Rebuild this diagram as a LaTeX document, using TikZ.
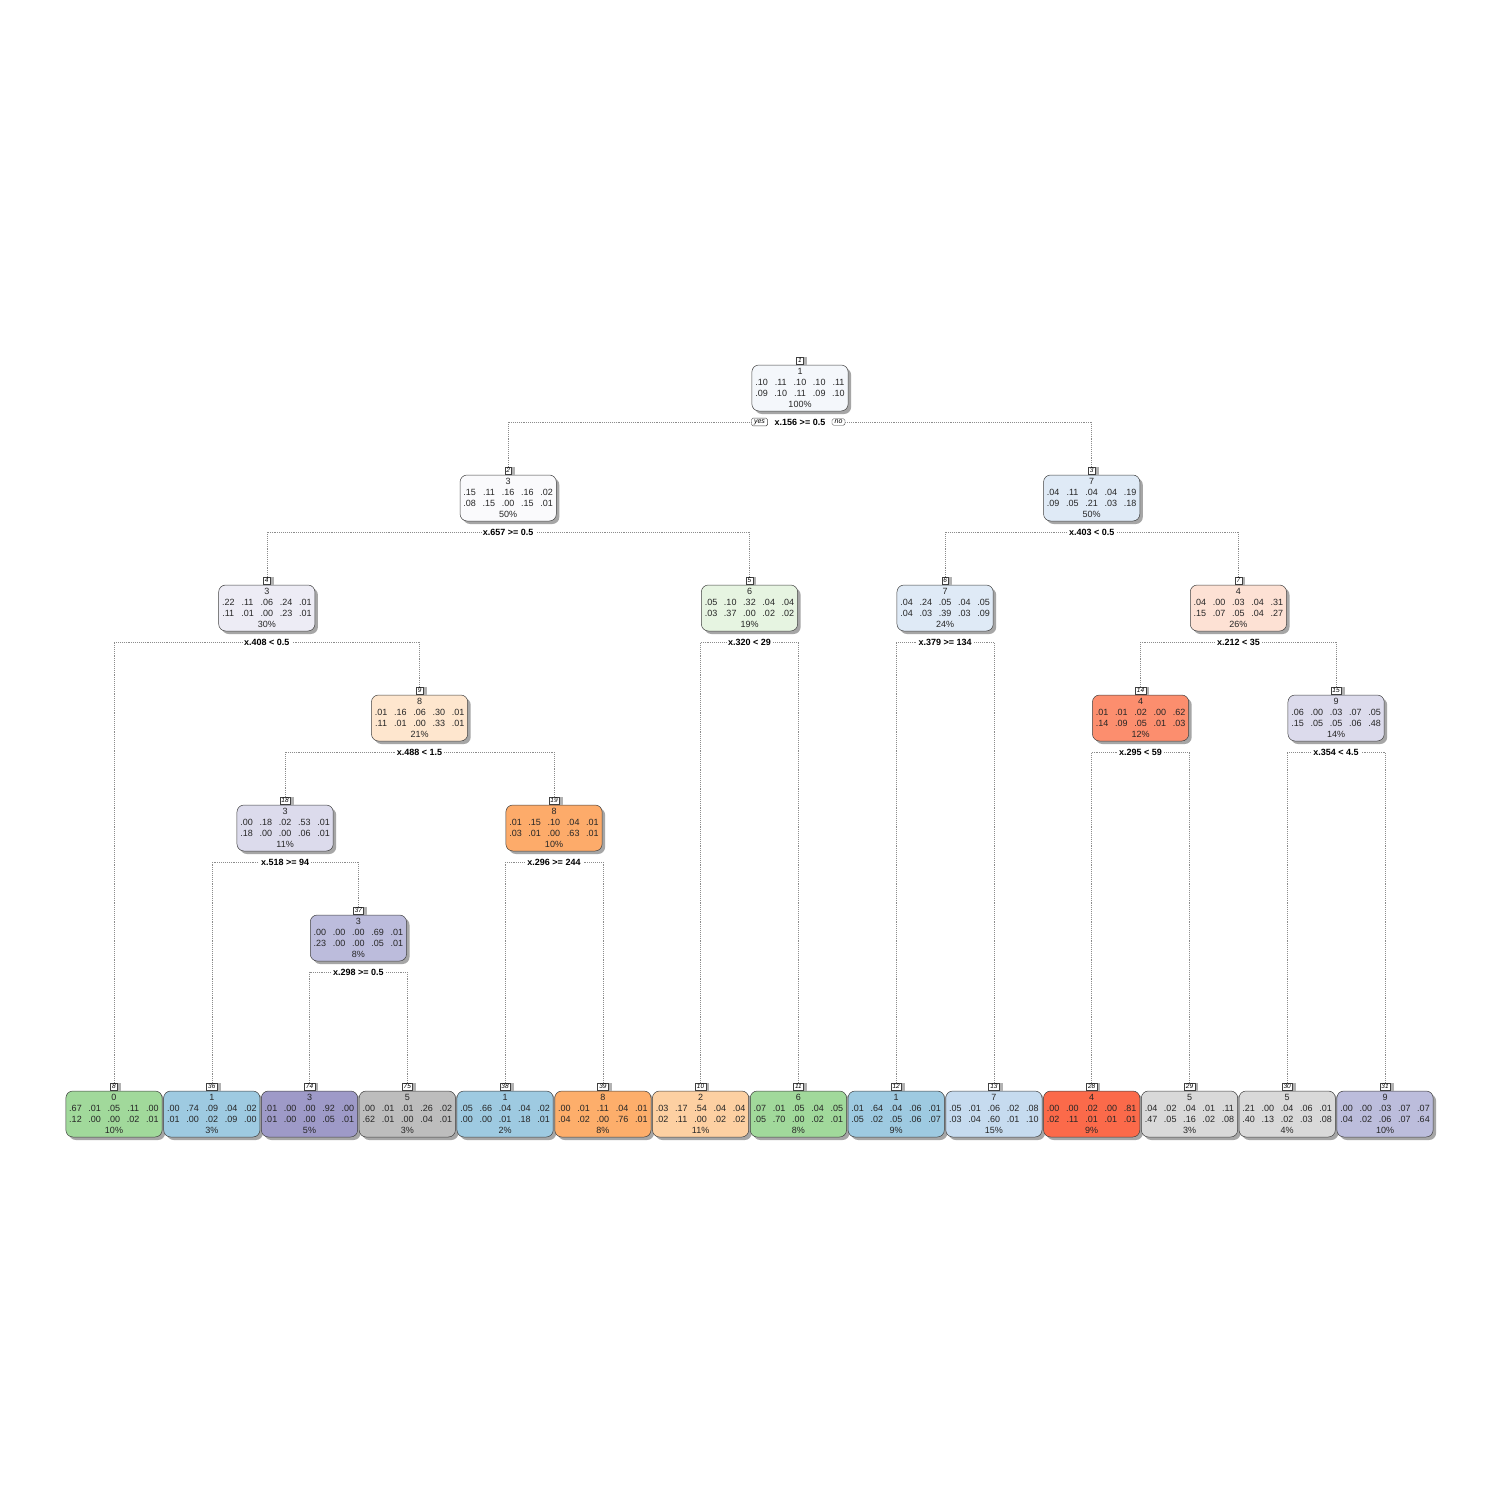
\documentclass[tikz,border=0pt]{standalone}
\usepackage{fontspec}
\setmainfont{Liberation Sans}
\usetikzlibrary{shadows}
\definecolor{cA}{HTML}{F4F7FB}
\definecolor{cB}{HTML}{FAFAFC}
\definecolor{cC}{HTML}{DFEAF6}
\definecolor{cD}{HTML}{EDECF5}
\definecolor{cE}{HTML}{E6F4E1}
\definecolor{cF}{HTML}{FDE1D4}
\definecolor{cG}{HTML}{FEE6CE}
\definecolor{cH}{HTML}{FC8E6E}
\definecolor{cI}{HTML}{DCDBEC}
\definecolor{cJ}{HTML}{FDAB6A}
\definecolor{cK}{HTML}{BCBCDC}
\definecolor{lgreen}{HTML}{A1D99B}
\definecolor{lblue}{HTML}{9ECAE1}
\definecolor{lpurple}{HTML}{9E9AC8}
\definecolor{lgray}{HTML}{BDBDBD}
\definecolor{lorange}{HTML}{FDAE6B}
\definecolor{lpeach}{HTML}{FDD0A2}
\definecolor{llblue}{HTML}{C6DBEF}
\definecolor{lred}{HTML}{FB6A4A}
\definecolor{llgray}{HTML}{D9D9D9}
\definecolor{llav}{HTML}{BCBDDC}
\newcommand\pr[5]{\makebox[19.25pt]{#1}\makebox[19.25pt]{#2}\makebox[19.25pt]{#3}\makebox[19.25pt]{#4}\makebox[19.25pt]{#5}}
\newcommand\tnode[8]{%
  \node[tbox, fill=#4] (n#1) at (#2,#3) {#5\\#6\\#7\\#8};
  \node[numlab] (l#1) at (#2,#3-27.5) {#1};
}
\tikzset{
  tbox/.style={draw=black!75, line width=0.5pt, rounded corners=7pt,
    minimum width=96pt, minimum height=46pt, inner sep=0pt, align=center,
    text=black!85, font=\fontsize{9}{11}\selectfont,
    drop shadow={shadow xshift=3pt, shadow yshift=-3pt, fill=black!35, opacity=1}},
  numlab/.style={draw=black!75, fill=white, line width=0.4pt, inner xsep=1.6pt,
    inner ysep=0.5pt, minimum height=7.5pt, font=\fontsize{6.5}{6.5}\selectfont\itshape,
    drop shadow={shadow xshift=3.5pt, shadow yshift=-0.5pt, fill=black!30, opacity=1}},
  splitlab/.style={font=\fontsize{9}{9}\selectfont\bfseries, inner xsep=2pt, inner ysep=1pt},
  yn/.style={draw=black!75, fill=white, line width=0.4pt, rounded corners=1.5pt,
    inner xsep=2.6pt, inner ysep=1.3pt, font=\fontsize{7}{7}\selectfont\itshape},
  edge/.style={draw=black!45, line width=0.5pt, dash pattern=on 0.5pt off 1.4pt},
}
\begin{document}
\begin{tikzpicture}[x=1pt,y=-1pt]
\fill[white] (0,0) rectangle (1500,1500);
\useasboundingbox (0,0) rectangle (1500,1500);
% internal nodes
\tnode{1}{800}{388}{cA}{1}{\pr{.10}{.11}{.10}{.10}{.11}}{\pr{.09}{.10}{.11}{.09}{.10}}{100\%}
\tnode{2}{508.2}{498}{cB}{3}{\pr{.15}{.11}{.16}{.16}{.02}}{\pr{.08}{.15}{.00}{.15}{.01}}{50\%}
\tnode{3}{1091.7}{498}{cC}{7}{\pr{.04}{.11}{.04}{.04}{.19}}{\pr{.09}{.05}{.21}{.03}{.18}}{50\%}
\tnode{4}{266.8}{608}{cD}{3}{\pr{.22}{.11}{.06}{.24}{.01}}{\pr{.11}{.01}{.00}{.23}{.01}}{30\%}
\tnode{5}{749.5}{608}{cE}{6}{\pr{.05}{.10}{.32}{.04}{.04}}{\pr{.03}{.37}{.00}{.02}{.02}}{19\%}
\tnode{6}{945.1}{608}{cC}{7}{\pr{.04}{.24}{.05}{.04}{.05}}{\pr{.04}{.03}{.39}{.03}{.09}}{24\%}
\tnode{7}{1238.4}{608}{cF}{4}{\pr{.04}{.00}{.03}{.04}{.31}}{\pr{.15}{.07}{.05}{.04}{.27}}{26\%}
\tnode{9}{419.6}{718}{cG}{8}{\pr{.01}{.16}{.06}{.30}{.01}}{\pr{.11}{.01}{.00}{.33}{.01}}{21\%}
\tnode{14}{1140.6}{718}{cH}{4}{\pr{.01}{.01}{.02}{.00}{.62}}{\pr{.14}{.09}{.05}{.01}{.03}}{12\%}
\tnode{15}{1336.1}{718}{cI}{9}{\pr{.06}{.00}{.03}{.07}{.05}}{\pr{.15}{.05}{.05}{.06}{.48}}{14\%}
\tnode{18}{285.1}{828}{cI}{3}{\pr{.00}{.18}{.02}{.53}{.01}}{\pr{.18}{.00}{.00}{.06}{.01}}{11\%}
\tnode{19}{554.0}{828}{cJ}{8}{\pr{.01}{.15}{.10}{.04}{.01}}{\pr{.03}{.01}{.00}{.63}{.01}}{10\%}
\tnode{37}{358.4}{938}{cK}{3}{\pr{.00}{.00}{.00}{.69}{.01}}{\pr{.23}{.00}{.00}{.05}{.01}}{8\%}
% leaves
\tnode{8}{114.0}{1114}{lgreen}{0}{\pr{.67}{.01}{.05}{.11}{.00}}{\pr{.12}{.00}{.00}{.02}{.01}}{10\%}
\tnode{36}{211.8}{1114}{lblue}{1}{\pr{.00}{.74}{.09}{.04}{.02}}{\pr{.01}{.00}{.02}{.09}{.00}}{3\%}
\tnode{74}{309.5}{1114}{lpurple}{3}{\pr{.01}{.00}{.00}{.92}{.00}}{\pr{.01}{.00}{.00}{.05}{.01}}{5\%}
\tnode{75}{407.3}{1114}{lgray}{5}{\pr{.00}{.01}{.01}{.26}{.02}}{\pr{.62}{.01}{.00}{.04}{.01}}{3\%}
\tnode{38}{505.1}{1114}{lblue}{1}{\pr{.05}{.66}{.04}{.04}{.02}}{\pr{.00}{.00}{.01}{.18}{.01}}{2\%}
\tnode{39}{602.9}{1114}{lorange}{8}{\pr{.00}{.01}{.11}{.04}{.01}}{\pr{.04}{.02}{.00}{.76}{.01}}{8\%}
\tnode{10}{700.6}{1114}{lpeach}{2}{\pr{.03}{.17}{.54}{.04}{.04}}{\pr{.02}{.11}{.00}{.02}{.02}}{11\%}
\tnode{11}{798.4}{1114}{lgreen}{6}{\pr{.07}{.01}{.05}{.04}{.05}}{\pr{.05}{.70}{.00}{.02}{.01}}{8\%}
\tnode{12}{896.2}{1114}{lblue}{1}{\pr{.01}{.64}{.04}{.06}{.01}}{\pr{.05}{.02}{.05}{.06}{.07}}{9\%}
\tnode{13}{993.9}{1114}{llblue}{7}{\pr{.05}{.01}{.06}{.02}{.08}}{\pr{.03}{.04}{.60}{.01}{.10}}{15\%}
\tnode{28}{1091.7}{1114}{lred}{4}{\pr{.00}{.00}{.02}{.00}{.81}}{\pr{.02}{.11}{.01}{.01}{.01}}{9\%}
\tnode{29}{1189.5}{1114}{llgray}{5}{\pr{.04}{.02}{.04}{.01}{.11}}{\pr{.47}{.05}{.16}{.02}{.08}}{3\%}
\tnode{30}{1287.2}{1114}{llgray}{5}{\pr{.21}{.00}{.04}{.06}{.01}}{\pr{.40}{.13}{.02}{.03}{.08}}{4\%}
\tnode{31}{1385.0}{1114}{llav}{9}{\pr{.00}{.00}{.03}{.07}{.07}}{\pr{.04}{.02}{.06}{.07}{.64}}{10\%}
% split labels
\node[splitlab] (s1) at (800,422) {x.156 >= 0.5};
\node[yn] (yes) at (759.5,422) {yes};
\node[yn] (no) at (838.5,422) {no};
\node[splitlab] (s2) at (508.2,532) {x.657 >= 0.5};
\node[splitlab] (s3) at (1091.7,532) {x.403 < 0.5};
\node[splitlab] (s4) at (266.8,642) {x.408 < 0.5};
\node[splitlab] (s5) at (749.5,642) {x.320 < 29};
\node[splitlab] (s6) at (945.1,642) {x.379 >= 134};
\node[splitlab] (s7) at (1238.4,642) {x.212 < 35};
\node[splitlab] (s9) at (419.6,752) {x.488 < 1.5};
\node[splitlab] (s14) at (1140.6,752) {x.295 < 59};
\node[splitlab] (s15) at (1336.1,752) {x.354 < 4.5};
\node[splitlab] (s18) at (285.1,862) {x.518 >= 94};
\node[splitlab] (s19) at (554.0,862) {x.296 >= 244};
\node[splitlab] (s37) at (358.4,972) {x.298 >= 0.5};
% connectors
\draw[edge] (l2.north) |- (yes.west);
\draw[edge] (l3.north) |- (no.east);
\draw[edge] (l4.north) |- (s2.west);
\draw[edge] (l5.north) |- (s2.east);
\draw[edge] (l6.north) |- (s3.west);
\draw[edge] (l7.north) |- (s3.east);
\draw[edge] (l8.north) |- (s4.west);
\draw[edge] (l9.north) |- (s4.east);
\draw[edge] (l10.north) |- (s5.west);
\draw[edge] (l11.north) |- (s5.east);
\draw[edge] (l12.north) |- (s6.west);
\draw[edge] (l13.north) |- (s6.east);
\draw[edge] (l14.north) |- (s7.west);
\draw[edge] (l15.north) |- (s7.east);
\draw[edge] (l18.north) |- (s9.west);
\draw[edge] (l19.north) |- (s9.east);
\draw[edge] (l28.north) |- (s14.west);
\draw[edge] (l29.north) |- (s14.east);
\draw[edge] (l30.north) |- (s15.west);
\draw[edge] (l31.north) |- (s15.east);
\draw[edge] (l36.north) |- (s18.west);
\draw[edge] (l37.north) |- (s18.east);
\draw[edge] (l38.north) |- (s19.west);
\draw[edge] (l39.north) |- (s19.east);
\draw[edge] (l74.north) |- (s37.west);
\draw[edge] (l75.north) |- (s37.east);
\end{tikzpicture}
\end{document}
